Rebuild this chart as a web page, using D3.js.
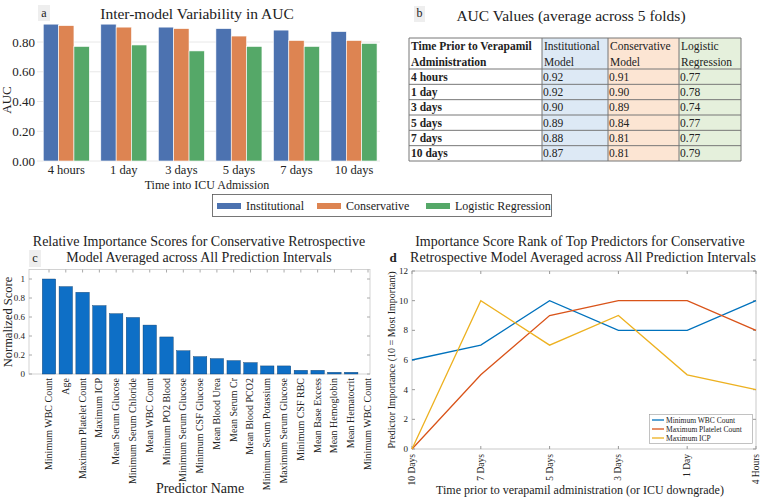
<!DOCTYPE html>
<html><head><meta charset="utf-8">
<script src="https://cdn.jsdelivr.net/npm/d3@7"></script>
<style>
body{margin:0;background:#fff;}
text{font-family:'Liberation Serif','Times New Roman','DejaVu Serif',serif;fill:#222;}
</style></head>
<body><svg id="c" width="760" height="499" font-family="Liberation Serif, Times New Roman, DejaVu Serif, serif"></svg>
<script>
// ---- Data ----
const timepoints = ["4 hours","1 day","3 days","5 days","7 days","10 days"];
const models = ["Institutional","Conservative","Logistic Regression"];
const aucInstitutional = [0.92,0.92,0.90,0.89,0.88,0.87];
const aucConservative = [0.91,0.90,0.89,0.84,0.81,0.81];
const aucLogistic = [0.77,0.78,0.74,0.77,0.77,0.79];
const yTicksA = [0,0.2,0.4,0.6,0.8];

const tableHeader = [["Time Prior to Verapamil","Administration"],["Institutional","Model"],["Conservative","Model"],["Logistic","Regression"]];
const tableRowLabels = ["4 hours","1 day","3 days","5 days","7 days","10 days"];

const predictors = ["Minimum WBC Count","Age","Maximum Platelet Count","Maximum ICP","Mean Serum Glucose","Minimum Serum Chloride","Mean WBC Count","Minimum PO2 Blood","Minimum Serum Glucose","Minimum CSF Glucose","Mean Blood Urea","Mean Serum Cr","Mean Blood PCO2","Minimum Serum Potassium","Maximum Serum Glucose","Minimum CSF RBC","Mean Base Excess","Mean Hemoglobin","Mean Hematocrit","Minimum WBC Count"];
const importance = [1.0,0.92,0.86,0.72,0.635,0.595,0.515,0.39,0.245,0.183,0.162,0.141,0.12,0.085,0.085,0.039,0.039,0.018,0.018,0];
const yTicksC = [0,0.2,0.4,0.6,0.8,1];

const rankTimes = ["10 Days","7 Days","5 Days","3 Days","1 Day","4 Hours"];
const rankNames = ["Minimum WBC Count","Maximum Platelet Count","Maximum ICP"];
const rankWBC = [6,7,10,8,8,10];
const rankPlatelet = [0,5,9,10,10,8];
const rankICP = [0,10,7,9,5,4];
const yTicksD = [0,2,4,6,8,10,12];

const FONT = "Liberation Serif, Times New Roman, DejaVu Serif, serif";
const svg = d3.select("#c");
const root = svg.append("g").attr("font-family",FONT);

// ---------- Panel a ----------
const colA = ["#4C72B0","#DD8452","#55A868"];
const xA = d3.scaleBand().domain(timepoints).range([37.5,382.8]).padding(0);
const yA = d3.scaleLinear().domain([0,1]).range([161,12.25]);
const gA = root.append("g");
gA.selectAll("line.grid").data(yTicksA).join("line")
  .attr("x1",37).attr("x2",380).attr("y1",d=>yA(d)).attr("y2",d=>yA(d))
  .attr("stroke","#e8e8e8").attr("stroke-width",1);
const seriesA = [aucInstitutional,aucConservative,aucLogistic];
const bwA = xA.step()*0.8/3;
seriesA.forEach((s,k)=>{
  gA.selectAll(null).data(s).join("rect")
    .attr("x",(d,i)=>xA(timepoints[i])+xA.step()*0.1+k*bwA)
    .attr("width",bwA).attr("y",d=>yA(d)).attr("height",d=>yA(0)-yA(d))
    .attr("fill",colA[k]).attr("stroke","#fff").attr("stroke-width",0.6);
});
gA.selectAll("text.yt").data(yTicksA).join("text")
  .attr("x",35).attr("y",d=>yA(d)).attr("dy","0.35em").attr("text-anchor","end")
  .attr("font-size",13).text(d=>d.toFixed(2));
gA.selectAll("text.xt").data(timepoints).join("text")
  .attr("x",d=>xA(d)+xA.step()/2).attr("y",174).attr("text-anchor","middle")
  .attr("font-size",12.5).text(d=>d);
gA.append("text").attr("x",207).attr("y",189).attr("text-anchor","middle").attr("font-size",12).text("Time into ICU Admission");
gA.append("text").attr("transform","translate(11,100) rotate(-90)").attr("text-anchor","middle").attr("font-size",13).text("AUC");
gA.append("rect").attr("x",38).attr("y",5).attr("width",12).attr("height",16).attr("fill","#eeeeee");
gA.append("text").attr("x",44).attr("y",17).attr("text-anchor","middle").attr("font-size",12).text("a");
gA.append("text").attr("x",197).attr("y",19).attr("text-anchor","middle").attr("font-size",15.5).text("Inter-model Variability in AUC");

// legend
const lg = root.append("g");
lg.append("rect").attr("x",212.5).attr("y",194.5).attr("width",339).attr("height",22).attr("fill","#fff").attr("stroke","#555").attr("stroke-width",0.8);
const legX = [217,317,426];
models.forEach((m,k)=>{
  lg.append("rect").attr("x",legX[k]).attr("y",203).attr("width",24).attr("height",6).attr("fill",colA[k]);
  lg.append("text").attr("x",legX[k]+29).attr("y",210).attr("font-size",12).text(m);
});

// ---------- Table b ----------
const gB = root.append("g");
const colX = [409,542,608,679,741];
const rowY = [38,69];
for(let i=1;i<=6;i++) rowY.push(69+i*92/6);
const bg = ["#ffffff","#dde9f5","#fce5d3","#e5f0dc"];
for(let c=0;c<4;c++){
  gB.append("rect").attr("x",colX[c]).attr("y",38).attr("width",colX[c+1]-colX[c]).attr("height",123).attr("fill",bg[c]);
}
const valsB = [aucInstitutional,aucConservative,aucLogistic];
tableHeader.forEach((h,c)=>{
  h.forEach((line,j)=>{
    gB.append("text").attr("x",colX[c]+2).attr("y",50+j*16).attr("font-size",11.5)
      .attr("font-weight",c===0?"bold":"normal").text(line);
  });
});
tableRowLabels.forEach((r,i)=>{
  const yb = rowY[i+1]+11.5;
  gB.append("text").attr("x",colX[0]+2).attr("y",yb).attr("font-size",11.5).attr("font-weight","bold").text(r);
  valsB.forEach((s,k)=>{
    gB.append("text").attr("x",colX[k+1]+1).attr("y",yb).attr("font-size",11.5).text(s[i].toFixed(2));
  });
});
rowY.forEach(y=>gB.append("line").attr("x1",409).attr("x2",741).attr("y1",y).attr("y2",y).attr("stroke","#777").attr("stroke-width",1));
colX.forEach(x=>gB.append("line").attr("x1",x).attr("x2",x).attr("y1",38).attr("y2",161).attr("stroke","#777").attr("stroke-width",1));
gB.append("rect").attr("x",414).attr("y",6).attr("width",11).attr("height",16).attr("fill","#eeeeee");
gB.append("text").attr("x",419.5).attr("y",17).attr("text-anchor","middle").attr("font-size",12).text("b");
gB.append("text").attr("x",571).attr("y",21).attr("text-anchor","middle").attr("font-size",15.5).text("AUC Values (average across 5 folds)");

// ---------- Panel c ----------
const gC = root.append("g");
const xC = d3.scaleLinear().domain([0,19]).range([49,368]);
const yC = d3.scaleLinear().domain([0,1.1]).range([374,269.5]);
const bwC = (xC(1)-xC(0))*0.8;
gC.append("rect").attr("x",29).attr("y",269.5).attr("width",341).attr("height",104.5).attr("fill","#fff").attr("stroke","#c8c8c8").attr("stroke-width",0.8);
gC.selectAll("rect.bar").data(importance).join("rect")
  .attr("x",(d,i)=>xC(i)-bwC/2).attr("width",bwC)
  .attr("y",d=>yC(d)).attr("height",d=>yC(0)-yC(d))
  .attr("fill","#0E6FC6").attr("stroke","#0b3a66").attr("stroke-width",0.4);
yTicksC.forEach(t=>{
  gC.append("line").attr("x1",29).attr("x2",32).attr("y1",yC(t)).attr("y2",yC(t)).attr("stroke","#aaa");
  gC.append("line").attr("x1",367).attr("x2",370).attr("y1",yC(t)).attr("y2",yC(t)).attr("stroke","#aaa");
});
predictors.forEach((p,i)=>{
  gC.append("line").attr("x1",xC(i)).attr("x2",xC(i)).attr("y1",269.5).attr("y2",272.5).attr("stroke","#aaa");
});
gC.selectAll("text.yt").data(yTicksC).join("text")
  .attr("x",25).attr("y",d=>yC(d)).attr("dy","0.35em").attr("text-anchor","end")
  .attr("font-size",9).text(d=>d3.format("~g")(d));
gC.selectAll("text.xt").data(predictors).join("text")
  .attr("transform",(d,i)=>`translate(${xC(i)+3},378) rotate(-90)`)
  .attr("text-anchor","end").attr("font-size",10).text(d=>d);
gC.append("text").attr("x",200).attr("y",493).attr("text-anchor","middle").attr("font-size",14).text("Predictor Name");
gC.append("text").attr("transform","translate(12,322) rotate(-90)").attr("text-anchor","middle").attr("font-size",12.5).text("Normalized Score");
gC.append("rect").attr("x",29).attr("y",250).attr("width",12).attr("height",17).attr("fill","#eeeeee");
gC.append("text").attr("x",35).attr("y",262).attr("text-anchor","middle").attr("font-size",12.5).text("c");
gC.append("text").attr("x",199).attr("y",246).attr("text-anchor","middle").attr("font-size",14).text("Relative Importance Scores for Conservative Retrospective");
gC.append("text").attr("x",199).attr("y",262).attr("text-anchor","middle").attr("font-size",14).text("Model Averaged across All Prediction Intervals");

// ---------- Panel d ----------
const gD = root.append("g");
const xD = d3.scalePoint().domain(rankTimes).range([412,756]);
const yD = d3.scaleLinear().domain([0,12]).range([449,271]);
gD.append("rect").attr("x",412).attr("y",271).attr("width",344).attr("height",178).attr("fill","#fff").attr("stroke","#bbb").attr("stroke-width",0.8);
yTicksD.forEach(t=>{
  gD.append("line").attr("x1",412).attr("x2",415).attr("y1",yD(t)).attr("y2",yD(t)).attr("stroke","#999");
  gD.append("line").attr("x1",753).attr("x2",756).attr("y1",yD(t)).attr("y2",yD(t)).attr("stroke","#999");
});
rankTimes.forEach(t=>{
  gD.append("line").attr("x1",xD(t)).attr("x2",xD(t)).attr("y1",449).attr("y2",446).attr("stroke","#999");
  gD.append("line").attr("x1",xD(t)).attr("x2",xD(t)).attr("y1",271).attr("y2",274).attr("stroke","#999");
});
const colD = ["#0072BD","#D95319","#EDB120"];
const seriesD = [rankWBC,rankPlatelet,rankICP];
const lineD = d3.line().x((d,i)=>xD(rankTimes[i])).y(d=>yD(d));
seriesD.forEach((s,k)=>{
  gD.append("path").datum(s).attr("d",lineD).attr("fill","none").attr("stroke",colD[k]).attr("stroke-width",1.3);
});
gD.selectAll("text.yt").data(yTicksD).join("text")
  .attr("x",408).attr("y",d=>yD(d)).attr("dy","0.35em").attr("text-anchor","end")
  .attr("font-size",9).text(d=>d);
gD.selectAll("text.xt").data(rankTimes).join("text")
  .attr("transform",d=>`translate(${xD(d)+3},454) rotate(-90)`)
  .attr("text-anchor","end").attr("font-size",9.5).text(d=>d);
gD.append("text").attr("x",580).attr("y",494).attr("text-anchor","middle").attr("font-size",12).text("Time prior to verapamil administration (or ICU downgrade)");
gD.append("text").attr("transform","translate(395,360) rotate(-90)").attr("text-anchor","middle").attr("font-size",10).text("Predictor Importance (10 = Most Important)");
gD.append("rect").attr("x",649.5).attr("y",414.5).attr("width",103).attr("height",29).attr("fill","#fff").attr("stroke","#999").attr("stroke-width",0.6);
rankNames.forEach((n,k)=>{
  const yy = 420+k*9;
  gD.append("line").attr("x1",652).attr("x2",664).attr("y1",yy).attr("y2",yy).attr("stroke",colD[k]).attr("stroke-width",1.3);
  gD.append("text").attr("x",666).attr("y",yy).attr("dy","0.35em").attr("font-size",7.5).text(n);
});
gD.append("text").attr("x",393).attr("y",262).attr("text-anchor","middle").attr("font-size",13).attr("font-weight","bold").text("d");
gD.append("text").attr("x",580).attr("y",246).attr("text-anchor","middle").attr("font-size",14).text("Importance Score Rank of Top Predictors for Conservative");
gD.append("text").attr("x",583).attr("y",262).attr("text-anchor","middle").attr("font-size",14).text("Retrospective Model Averaged across All Prediction Intervals");
</script></body></html>
